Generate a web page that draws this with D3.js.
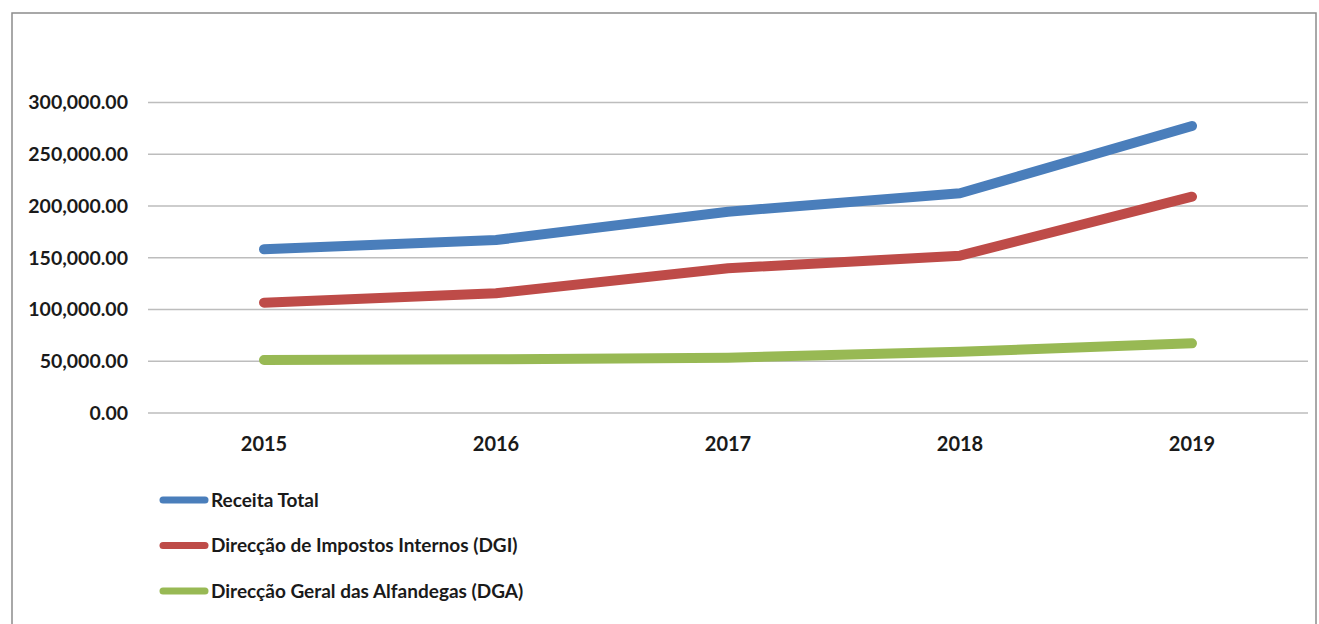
<!DOCTYPE html>
<html>
<head>
<meta charset="utf-8">
<script src="https://cdn.jsdelivr.net/npm/d3@7"></script>
<style>
  html, body { margin: 0; padding: 0; background: #fff; }
  svg { display: block; font-family: Lato, "Open Sans", sans-serif; }
</style>
</head>
<body>
<svg id="chart" width="1319" height="624"></svg>
<script>
// Years on the x axis
const years = ["2015", "2016", "2017", "2018", "2019"]

// Series values
const receitaTotal = [158200, 167100, 194500, 212300, 277300]
const dgi = [106600, 115700, 139800, 152000, 209000]
const dga = [51200, 51900, 53400, 59200, 67300]

const seriesNames = [
  "Receita Total",
  "Direcção de Impostos Internos (DGI)",
  "Direcção Geral das Alfandegas (DGA)"
]
const yTicks = [0, 50000, 100000, 150000, 200000, 250000, 300000]

const COLORS = ["#4a7ebb", "#be4b48", "#98b954"]

const series = [receitaTotal, dgi, dga].map((values, i) => ({
  name: seriesNames[i],
  color: COLORS[i],
  values: values.map((v, j) => ({ year: years[j], value: v }))
}))

const svg = d3.select("#chart")

// Outer frame
svg.append("rect")
  .attr("x", 12).attr("y", 13)
  .attr("width", 1304).attr("height", 640)
  .attr("fill", "none")
  .attr("stroke", "#8c8c8c")
  .attr("stroke-width", 1.5)

const plot = { left: 148, right: 1308, top: 102.5, bottom: 413 }

const x = d3.scaleBand()
  .domain(years)
  .range([plot.left, plot.right])

const y = d3.scaleLinear()
  .domain([0, 300000])
  .range([plot.bottom, plot.top])

// Gridlines
svg.append("g")
  .selectAll("line")
  .data(yTicks)
  .enter().append("line")
  .attr("x1", plot.left)
  .attr("x2", plot.right)
  .attr("y1", d => y(d))
  .attr("y2", d => y(d))
  .attr("stroke", "#bdbdbd")
  .attr("stroke-width", 1.5)

// Y axis labels
const fmt = d3.format(",.2f")
const yAxis = svg.append("g")
  .attr("transform", `translate(${plot.left - 12},0)`)
  .call(d3.axisLeft(y).tickValues(yTicks).tickFormat(fmt).tickSize(0).tickPadding(8))
yAxis.select(".domain").remove()
yAxis.selectAll("text")
  .attr("font-family", "Lato, sans-serif")
  .attr("font-size", 19.5)
  .attr("font-weight", "bold")
  .attr("fill", "#1a1a1a")

// X axis labels
const xAxis = svg.append("g")
  .attr("transform", `translate(0,${plot.bottom})`)
  .call(d3.axisBottom(x).tickSize(0).tickPadding(24))
xAxis.select(".domain").remove()
xAxis.selectAll("text")
  .attr("font-family", "Lato, sans-serif")
  .attr("font-size", 20)
  .attr("font-weight", "bold")
  .attr("fill", "#1a1a1a")

// Lines
const line = d3.line()
  .x(d => x(d.year) + x.bandwidth() / 2)
  .y(d => y(d.value))

svg.append("g")
  .selectAll("path")
  .data(series)
  .enter().append("path")
  .attr("d", d => line(d.values))
  .attr("fill", "none")
  .attr("stroke", d => d.color)
  .attr("stroke-width", 10)
  .attr("stroke-linecap", "round")
  .attr("stroke-linejoin", "round")

// Legend
const legend = svg.append("g")
  .selectAll("g")
  .data(series)
  .enter().append("g")
  .attr("transform", (d, i) => `translate(161,${500 + i * 45.5})`)

legend.append("line")
  .attr("x1", 2).attr("x2", 44)
  .attr("y1", 0).attr("y2", 0)
  .attr("stroke", d => d.color)
  .attr("stroke-width", 7)
  .attr("stroke-linecap", "round")

legend.append("text")
  .attr("x", 50)
  .attr("dy", "0.35em")
  .attr("font-family", "Lato, sans-serif")
  .attr("font-size", 19)
  .attr("font-weight", "bold")
  .attr("fill", "#1a1a1a")
  .text(d => d.name)
</script>
</body>
</html>
